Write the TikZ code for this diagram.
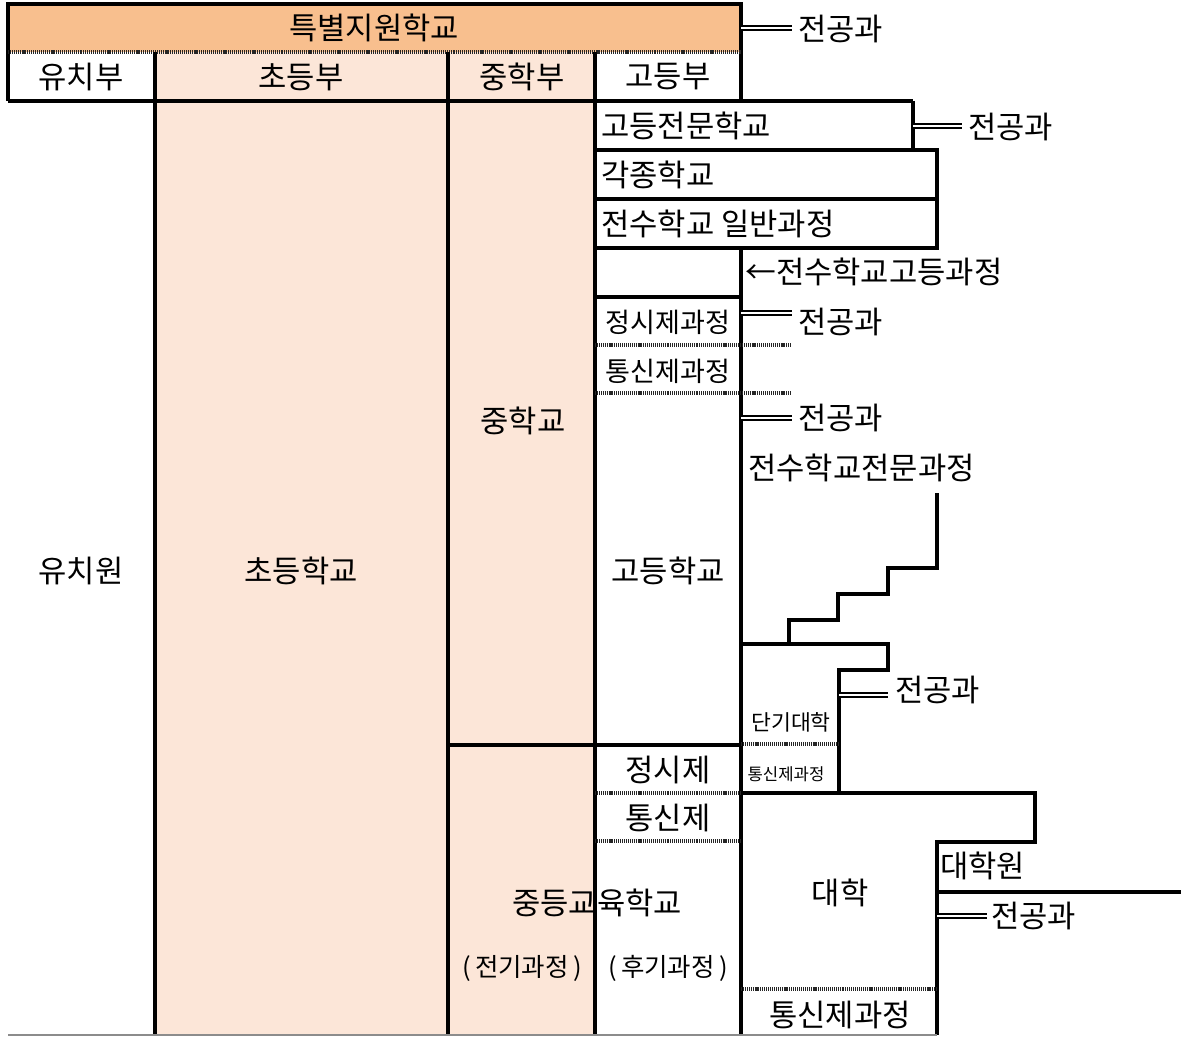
\documentclass[tikz,border=0pt]{standalone}
\usepackage{fontspec}
\setmainfont{Noto Sans CJK KR}
\definecolor{bannerc}{HTML}{F8BF8E}
\definecolor{peach}{HTML}{FCE6D8}
\begin{document}
\begin{tikzpicture}[x=0.02cm,y=-0.02cm,
  ln/.style={line width=1.9pt, line join=miter},
  hat/.style={line width=1.8pt, dash pattern=on 0.6pt off 0.5pt, draw=black!85},
  dbl/.style={double, line width=1.4pt, double distance=1.1pt},
  big/.style={inner sep=0pt, font=\fontsize{17.5}{17.5}\selectfont},
  mid/.style={inner sep=0pt, font=\fontsize{15.4}{15.4}\selectfont},
  sml/.style={inner sep=0pt, font=\fontsize{12.3}{12.3}\selectfont},
  tiny/.style={inner sep=0pt, font=\fontsize{9.5}{9.5}\selectfont},
  par/.style={inner sep=0pt, font=\fontsize{14.5}{14.5}\selectfont}]
\useasboundingbox (0,0) rectangle (1181,1037);
% fills
\fill[bannerc] (8,4) rectangle (741,52);
\fill[peach] (155,52) rectangle (595,1035);
% banner and header
\draw[ln] (8,101) -- (8,4) -- (741,4) -- (741,101);
\draw[hat] (8,52) -- (741,52);
\draw[ln] (8,101) -- (913,101);
\draw[ln] (155,52) -- (155,1035);
\draw[ln] (448,52) -- (448,1035);
\draw[ln] (595,52) -- (595,1035);
\draw[ln] (741,248) -- (741,1035);
% upper right boxes
\draw[ln] (913,101) -- (913,150);
\draw[ln] (595,150) -- (937,150) -- (937,248) -- (595,248);
\draw[ln] (595,199) -- (937,199);
\draw[ln] (595,297) -- (741,297);
\draw[hat] (595,345) -- (792,345);
\draw[hat] (595,393) -- (792,393);
\draw[ln] (448,745) -- (741,745);
\draw[hat] (595,793) -- (741,793);
\draw[hat] (595,841) -- (741,841);
% staircase
\draw[ln] (937,493) -- (937,568) -- (888,568) -- (888,594) -- (838,594) -- (838,620) -- (789,620) -- (789,644);
% junior college
\draw[ln] (741,644) -- (888,644) -- (888,670) -- (839,670) -- (839,793);
\draw[hat] (741,744) -- (839,744);
% university
\draw[ln] (741,793) -- (1035,793) -- (1035,842) -- (937,842) -- (937,1035);
\draw[ln] (937,892) -- (1181,892);
\draw[hat] (741,989) -- (937,989);
\draw[line width=1pt, draw=black!45] (8,1035) -- (937,1035);
% texts
\node[big] (ban) at (374,28) {특별지원학교};
\node[big] (h1) at (81,77) {유치부};
\node[big] (h2) at (301,77) {초등부};
\node[big] (h3) at (522,77) {중학부};
\node[big] (h4) at (668,77) {고등부};
\node[big, anchor=west] (k1) at (601,126) {고등전문학교};
\node[big, anchor=west] (k2) at (601,175) {각종학교};
\node[big, anchor=west] (k3) at (601,224) {전수학교 일반과정};
\node[big, anchor=west] (k4) at (745,272) {←전수학교고등과정};
\node[mid] (k5) at (668,322) {정시제과정};
\node[mid] (k6) at (668,371) {통신제과정};
\node[big] (m1) at (523,421) {중학교};
\node[big] (y1) at (81,571) {유치원};
\node[big] (e1) at (301,571) {초등학교};
\node[big] (g1) at (668,571) {고등학교};
\node[big, anchor=west] (s1) at (748,468) {전수학교전문과정};
\node[sml] (d1) at (791,722) {단기대학};
\node[tiny] (d2) at (786,774) {통신제과정};
\node[big] (g2) at (668,770) {정시제};
\node[big] (g3) at (668,818) {통신제};
\node[big] (u1) at (840,893) {대학};
\node[big, anchor=west] (u2) at (940,866) {대학원};
\node[big] (u3) at (840,1015) {통신제과정};
\node[big] (c1) at (597,903) {중등교육학교};
\node[par] (c2) at (522,968) {(\,전기과정\,)};
\node[par] (c3) at (668,968) {(\,후기과정\,)};
% major course labels
\node[big, anchor=west] (j1) at (798,29) {전공과};
\node[big, anchor=west] (j2) at (968,127) {전공과};
\node[big, anchor=west] (j3) at (798,322) {전공과};
\node[big, anchor=west] (j4) at (798,418) {전공과};
\node[big, anchor=west] (j5) at (895,690) {전공과};
\node[big, anchor=west] (j6) at (991,916) {전공과};
\coordinate (e1a) at (741,28);   \coordinate (e1b) at (792,28);
\coordinate (e2a) at (913,126);  \coordinate (e2b) at (962,126);
\coordinate (e3a) at (741,313);  \coordinate (e3b) at (792,313);
\coordinate (e4a) at (741,418);  \coordinate (e4b) at (792,418);
\coordinate (e5a) at (839,695);  \coordinate (e5b) at (888,695);
\coordinate (e6a) at (937,916);  \coordinate (e6b) at (987,916);
\draw[dbl] (e1a) -- (e1b);
\draw[dbl] (e2a) -- (e2b);
\draw[dbl] (e3a) -- (e3b);
\draw[dbl] (e4a) -- (e4b);
\draw[dbl] (e5a) -- (e5b);
\draw[dbl] (e6a) -- (e6b);
\end{tikzpicture}
\end{document}
